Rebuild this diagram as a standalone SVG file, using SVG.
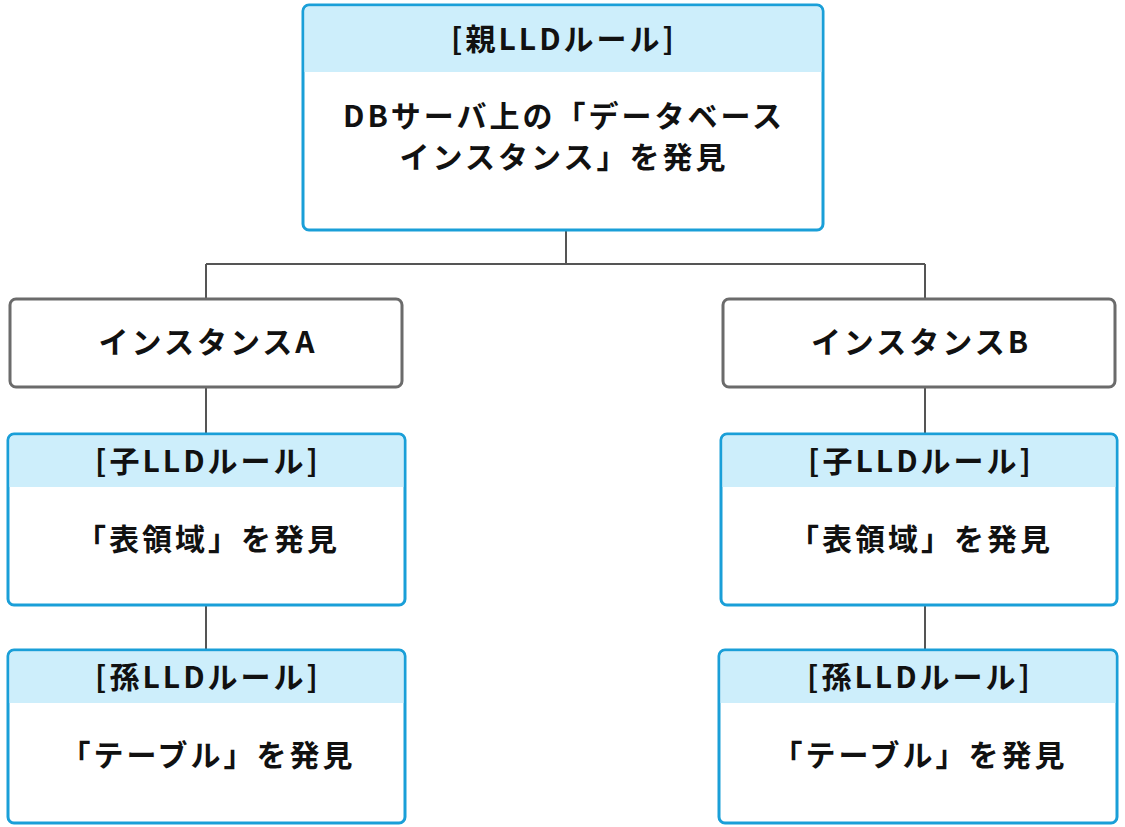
<svg xmlns="http://www.w3.org/2000/svg" width="1125" height="827" viewBox="0 0 1125 827">
<style>
.t{font-family:"Noto Sans CJK JP","Noto Sans",sans-serif;font-weight:bold;font-size:30px;letter-spacing:3px;fill:#111;text-anchor:middle;dominant-baseline:central}
.bl{fill:#fff;stroke:#1a9fd8;stroke-width:3}
.hd{fill:#cdeefb}
.gr{fill:#fff;stroke:#6b6b6b;stroke-width:3}
.c{stroke:#555;stroke-width:2;fill:none}
</style>
<rect width="1125" height="827" fill="#fff"/>
<g id="connectors">
<path class="c" d="M566 230V264M206 264H925M206 264V299M925 264V299M206 387V434M925 387V434M206 605V650M925 605V650"/>
</g>
<g id="parent">
<rect class="bl" x="303" y="5" width="520" height="225" rx="6"/>
<path class="hd" d="M304.5 11a5 5 0 0 1 5-4.5h507a5 5 0 0 1 5 4.5V72H304.5z"/>
<text class="t" x="564" y="37">[親LLDルール]</text>
<text class="t" x="564" y="114">DBサーバ上の「データベース</text>
<text class="t" x="564" y="155">インスタンス」を発見</text>
</g>
<g id="instA"><rect class="gr" x="10" y="299" width="392" height="88" rx="6"/><text class="t" x="208" y="340">インスタンスA</text></g>
<g id="instB"><rect class="gr" x="723" y="299" width="392" height="88" rx="6"/><text class="t" x="921" y="340">インスタンスB</text></g>
<g id="childA">
<rect class="bl" x="8" y="434" width="397" height="171" rx="6"/>
<path class="hd" d="M9.5 440a5 5 0 0 1 5-4.5h384a5 5 0 0 1 5 4.5V487H9.5z"/>
<text class="t" x="208" y="459">[子LLDルール]</text>
<text class="t" x="208" y="537">「表領域」を発見</text>
</g>
<g id="childB">
<rect class="bl" x="721" y="434" width="396" height="171" rx="6"/>
<path class="hd" d="M722.5 440a5 5 0 0 1 5-4.5h383a5 5 0 0 1 5 4.5V487H722.5z"/>
<text class="t" x="921" y="459">[子LLDルール]</text>
<text class="t" x="921" y="537">「表領域」を発見</text>
</g>
<g id="grandA">
<rect class="bl" x="8" y="650" width="397" height="173" rx="6"/>
<path class="hd" d="M9.5 656a5 5 0 0 1 5-4.5h384a5 5 0 0 1 5 4.5V703H9.5z"/>
<text class="t" x="208" y="675">[孫LLDルール]</text>
<text class="t" x="208" y="753">「テーブル」を発見</text>
</g>
<g id="grandB">
<rect class="bl" x="719" y="650" width="398" height="173" rx="6"/>
<path class="hd" d="M720.5 656a5 5 0 0 1 5-4.5h385a5 5 0 0 1 5 4.5V703H720.5z"/>
<text class="t" x="920" y="675">[孫LLDルール]</text>
<text class="t" x="920" y="753">「テーブル」を発見</text>
</g>
</svg>
